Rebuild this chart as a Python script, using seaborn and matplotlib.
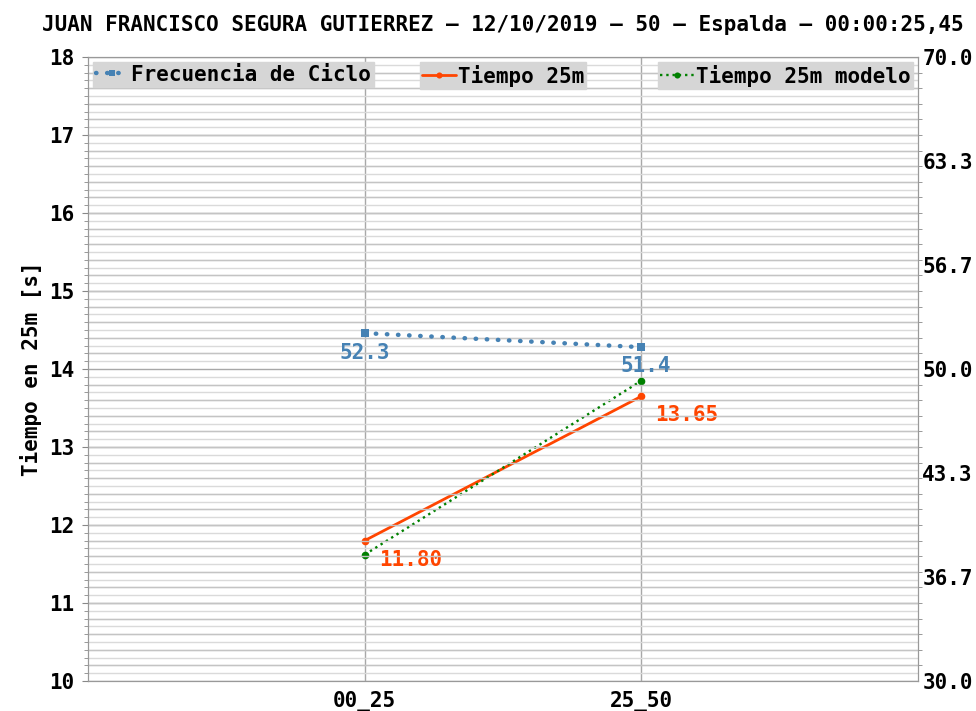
import numpy as np
import pandas as pd
import matplotlib
matplotlib.use("Agg")
import matplotlib.pyplot as plt
import seaborn as sns
from matplotlib.ticker import MultipleLocator, FixedLocator

# data
tramos = ["00_25", "25_50"]
tiempo_25m = [11.80, 13.65]
tiempo_modelo = [11.62, 13.85]
frecuencia = [52.3, 51.4]
right_ticks = [30.0, 36.7, 43.3, 50.0, 56.7, 63.3, 70.0]
titulo = "JUAN FRANCISCO SEGURA GUTIERREZ — 12/10/2019 — 50 — Espalda — 00:00:25,45"

sns.set_style("white")
plt.rcParams['font.family'] = ['DejaVu Sans Mono']
plt.rcParams['font.weight'] = 'bold'
plt.rcParams['text.color'] = 'black'
plt.rcParams['axes.labelcolor'] = 'black'
FS = 15

df = pd.DataFrame({"tramo": tramos, "tiempo": tiempo_25m,
                   "modelo": tiempo_modelo, "freq": frecuencia})

fig = plt.figure(figsize=(9.76, 7.11), dpi=100)
ax = fig.add_axes([0.0902, 0.0422, 0.8504, 0.8776])
ax2 = ax.twinx()

# grids: left minor every 0.1, right minor every 1 (overlap -> darker lines)
ax.set_ylim(10, 18)
ax.set_yticks(range(10, 19))
ax.yaxis.set_minor_locator(MultipleLocator(0.1))
ax.grid(which='major', color='#a8a8a8', lw=1)
ax.grid(which='minor', axis='y', color='#dadada', lw=1)
ax2.set_ylim(30, 70)
ax2.yaxis.set_major_locator(FixedLocator(np.linspace(30, 70, 7)))
ax2.set_yticklabels([f"{v:.1f}" for v in right_ticks])
ax2.yaxis.set_minor_locator(MultipleLocator(1))
ax2.grid(which='minor', axis='y', color='#c4c4c4', lw=1)
ax2.grid(which='major', visible=False)

sns.lineplot(data=df, x="tramo", y="tiempo", ax=ax, color="#ff4500", lw=2,
             marker='o', markersize=5.5, markeredgewidth=0, label="Tiempo 25m")
sns.lineplot(data=df, x="tramo", y="modelo", ax=ax, color="#008000", lw=1.7,
             ls=':', marker='o', markersize=5.5, markeredgewidth=0,
             label="Tiempo 25m modelo")
sns.lineplot(data=df, x="tramo", y="freq", ax=ax2, color="#4682b4", lw=3.2,
             ls=(0, (0.1, 2.4)), dash_capstyle='round', marker='s',
             markersize=6, markeredgewidth=0, label="Frecuencia de Ciclo")

ax.set_xlim(-1, 2)
ax.set_xlabel("")
ax.set_ylabel("Tiempo en 25m [s]", fontsize=FS, fontweight='bold', labelpad=5)
ax2.set_ylabel("")

for a in (ax, ax2):
    a.tick_params(axis='both', which='major', labelsize=FS, length=4,
                  color='#888888', labelcolor='black')
    a.tick_params(axis='y', which='minor', length=3, color='#888888')
    for lab in a.get_xticklabels() + a.get_yticklabels():
        lab.set_fontweight('bold')
    for s in a.spines.values():
        s.set_color('#999999')
ax.tick_params(axis='y', which='both', left=True)
ax.tick_params(axis='y', which='major', pad=6)
ax2.tick_params(axis='y', which='major', right=True, length=0, pad=3)
ax2.tick_params(axis='y', which='minor', right=True)

# value labels
for i, v in enumerate(frecuencia):
    off = (0, -20) if i == 0 else (4, -19)
    ax2.annotate(f"{v:.1f}", (i, v), xytext=off, textcoords='offset pixels',
                 ha='center', va='center', color="#4682b4", fontsize=FS,
                 fontweight='bold')
for i, v in enumerate(tiempo_25m):
    ax.annotate(f"{v:.2f}", (i, v), xytext=(14, -19), textcoords='offset pixels',
                ha='left', va='center', color="#ff4500", fontsize=FS,
                fontweight='bold')

# legends
leg_kw = dict(fontsize=FS, facecolor='#d6d6d6', edgecolor='#d6d6d6',
              framealpha=1, fancybox=False, handlelength=1.6,
              handletextpad=0.1, borderpad=0.12, borderaxespad=0.25,
              markerscale=0.8)
h, l = ax.get_legend_handles_labels()
ax.get_legend().remove()
h2, l2 = ax2.get_legend_handles_labels()
ax2.get_legend().remove()
lg1 = ax2.legend(h2, l2, loc='upper left', **leg_kw)
ax2.add_artist(lg1)
lg2 = ax2.legend([h[0]], [l[0]], loc='upper center', **leg_kw)
ax2.add_artist(lg2)
ax2.legend([h[1]], [l[1]], loc='upper right', **leg_kw)

ax.set_title(titulo, fontsize=FS, fontweight='bold', pad=19)

fig.savefig("out.png", dpi=100)
